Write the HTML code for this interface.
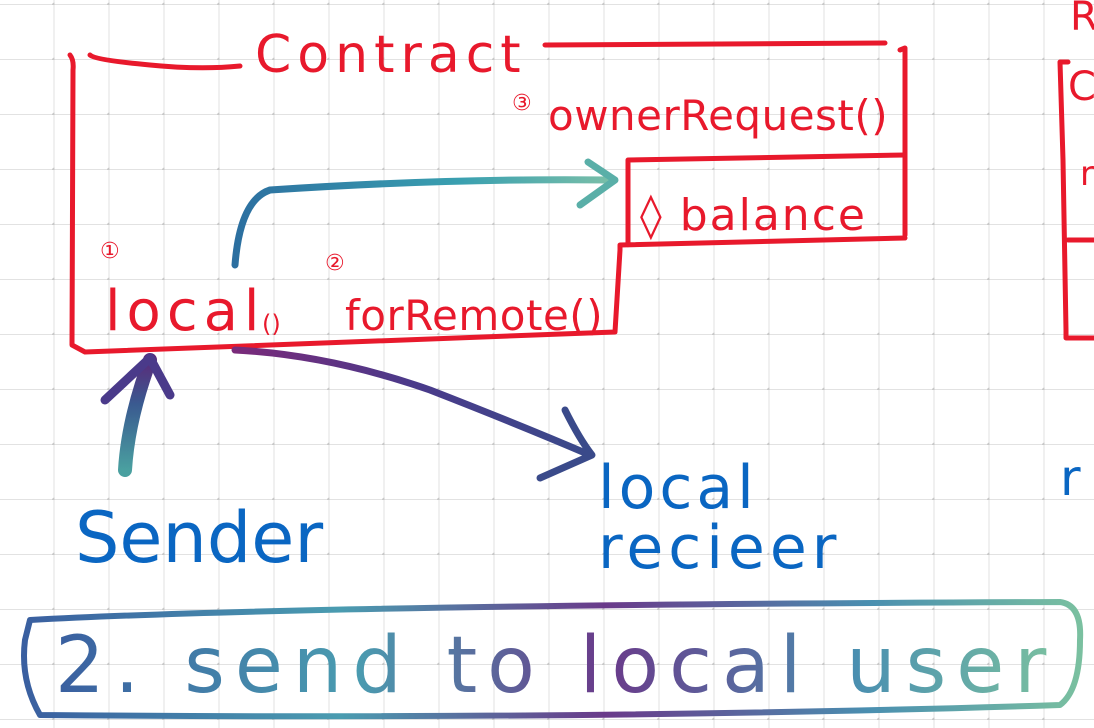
<!DOCTYPE html>
<html><head><meta charset="utf-8"><style>
html,body{margin:0;padding:0;background:#fff;}
svg{display:block;}
.h{font-family:"DejaVu Sans","Liberation Sans",sans-serif;}
</style></head><body>
<svg width="1094" height="728" viewBox="0 0 1094 728" xmlns="http://www.w3.org/2000/svg">
<defs>
<pattern id="g" x="-0.5" y="5" width="55" height="55" patternUnits="userSpaceOnUse">
<path d="M55 0V55M0 55H55" stroke="#e2e2e2" stroke-width="2" fill="none"/>
<circle cx="55" cy="55" r="2.5" fill="#c8c8c8"/>
</pattern>
<linearGradient id="gal" x1="0" y1="0" x2="1" y2="0">
<stop offset="0" stop-color="#3a5fa0"/><stop offset="0.3" stop-color="#4a9cb0"/>
<stop offset="0.55" stop-color="#6a3a8a"/><stop offset="0.8" stop-color="#4a8fb0"/><stop offset="1" stop-color="#7ac0a0"/>
</linearGradient>
<linearGradient id="teal" x1="0" y1="0" x2="1" y2="0">
<stop offset="0" stop-color="#2c6fa0"/><stop offset="0.6" stop-color="#3aa0b0"/><stop offset="1" stop-color="#7abfa8"/>
</linearGradient>
<linearGradient id="purp" x1="0" y1="0" x2="1" y2="0">
<stop offset="0" stop-color="#7a2a7a"/><stop offset="0.5" stop-color="#4a3a8a"/><stop offset="1" stop-color="#3a4a8a"/>
</linearGradient>
<linearGradient id="up" x1="0" y1="1" x2="0" y2="0">
<stop offset="0" stop-color="#4aa0a0"/><stop offset="0.6" stop-color="#3a5a90"/><stop offset="1" stop-color="#5a2a7a"/>
</linearGradient>
</defs>
<rect width="1094" height="728" fill="url(#g)"/>
<g fill="none" stroke="#e8192c" stroke-width="5" stroke-linecap="round" stroke-linejoin="round">
<path d="M70 55 Q74 60 73 70 L72 345 L85 352 L615 332 L620 250 L620 246"/>
<path d="M90 55 Q95 60 150 65 Q200 70 240 66"/>
<path d="M545 45 L885 43"/>
<path d="M900 50 L905 48 L905 235"/>
<path d="M628 160 L905 155 M628 160 L628 245 M620 245 L905 238"/>
<path d="M1068 62 L1060 62 L1063 160 L1066 330 L1066 338 L1094 338 M1068 240 L1094 240"/>
</g>
<g class="h" fill="#e8192c">
<text x="255" y="72" font-size="52" letter-spacing="6">Contract</text>
<text x="512" y="110" font-size="22">③</text>
<text x="548" y="130" font-size="42" letter-spacing="0.5">ownerRequest()</text>
<text x="640" y="230" font-size="44" letter-spacing="2">◊ balance</text>
<text x="100" y="258" font-size="22">①</text>
<text x="325" y="270" font-size="22">②</text>
<text x="105" y="330" font-size="56" letter-spacing="6">local</text>
<text x="262" y="332" font-size="24">()</text>
<text x="345" y="330" font-size="42" letter-spacing="0.5">forRemote()</text>
<text x="1070" y="30" font-size="40">R</text>
<text x="1068" y="100" font-size="40">C</text>
<text x="1080" y="185" font-size="34">r</text>
</g>
<g fill="none" stroke-width="7" stroke-linecap="round" stroke-linejoin="round">
<path d="M235 265 Q240 200 270 190 Q450 178 612 180" stroke="url(#teal)"/>
<path d="M580 205 L615 180 L588 162" stroke="#5aafa8"/>
<path d="M235 350 Q330 355 430 390 Q520 425 590 455" stroke="url(#purp)"/>
<path d="M565 410 Q580 440 592 455 L540 478" stroke="#3a4a8a"/>
<path d="M125 470 Q128 420 150 360" stroke="url(#up)" stroke-width="14"/>
<path d="M105 400 L150 358 L170 395" stroke="#4a3a8a" stroke-width="9"/>
<path d="M30 620 Q300 605 1060 602 Q1082 605 1080 640 Q1080 690 1060 705 Q600 720 40 715 Q20 680 25 640 Z" stroke="url(#gal)" stroke-width="6"/>
</g>
<g class="h" fill="#0a66c2">
<text x="75" y="562" font-size="70" letter-spacing="0">Sender</text>
<text x="598" y="508" font-size="60" letter-spacing="4">local</text>
<text x="598" y="568" font-size="60" letter-spacing="5">recieer</text>
<text x="1060" y="495" font-size="50">r</text>
</g>
<text class="h" x="55" y="692" font-size="78" fill="url(#gal)" letter-spacing="10">2. send to local user</text>
</svg>
</body></html>
